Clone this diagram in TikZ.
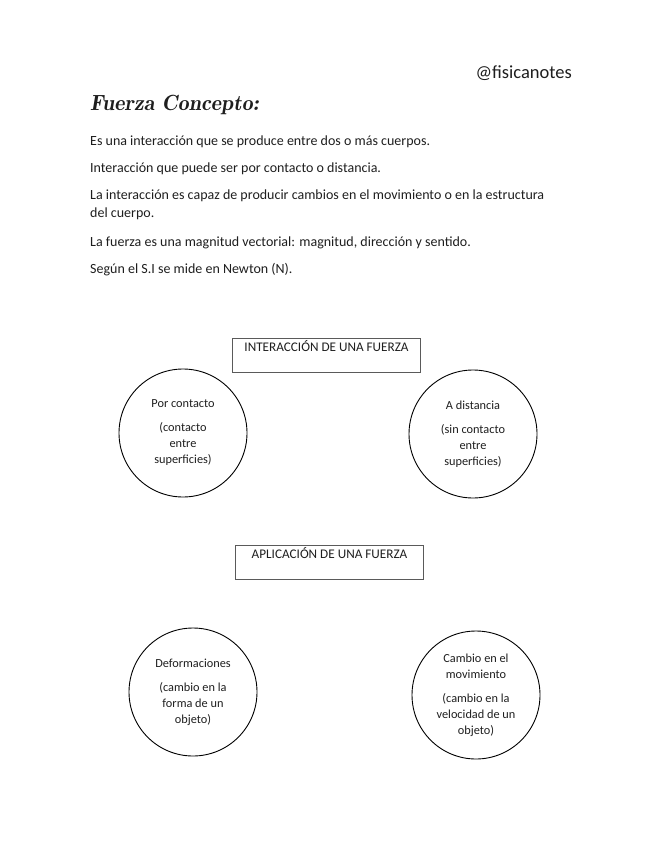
\documentclass[tikz,border=0pt]{standalone}
\usepackage{fontspec}
\setmainfont{Carlito}
\usetikzlibrary{positioning}
\definecolor{ink}{HTML}{1E1E1E}
\definecolor{frame}{HTML}{5A5A5A}

\begin{document}
\begin{tikzpicture}[x=1pt, y=1pt, text=ink,
  line/.style={font=\fontsize{14}{18}\selectfont, anchor=base west, align=left, inner sep=0pt},
  hdr/.style={draw=frame, line width=1pt, anchor=north west, minimum width=188, inner xsep=0pt, inner ysep=4pt, text height=9pt, text depth=17pt, font=\fontsize{13.2}{14}\selectfont},
  ball/.style={draw=black, circle, line width=0.9pt, minimum size=128, inner sep=0pt, align=center, font=\fontsize{12.3}{16}\selectfont}]
\useasboundingbox (0,0) rectangle (655,-848);
% cabecera
\node[anchor=base east, inner sep=0pt, font=\fontsize{18.5}{18}\selectfont] (handle) at (572,-79) {@fisicanotes};
\node[anchor=base west, inner sep=0pt, font=\fontfamily{lmr}\fontsize{22}{22}\selectfont\bfseries\itshape] (title) at (90,-111) {Fuerza Concepto:};
% definiciones (el nodo de dos lineas va por la base de su ultima linea)
\node[line] (def1) at (90,-145) {Es una interacción que se produce entre dos o más cuerpos.};
\node[line] (def2) at (90,-172) {Interacción que puede ser por contacto o distancia.};
\node[line] (def3) at (90,-217) {La interacción es capaz de producir cambios en el movimiento o en la estructura\\del cuerpo.};
\node[line] (def4) at (90,-246) {La fuerza es una magnitud vectorial: magnitud, dirección y sentido.};
\node[line] (def5) at (90,-273) {Según el S.I se mide en Newton (N).};
% interaccion
\node[hdr] (interbox) at (232,-338) {INTERACCIÓN DE UNA FUERZA};
\node[ball] (contacto) at (183,-433) {Por contacto\\[8pt](contacto\\entre\\superficies)};
\node[ball] (distancia) at (473,-434) {A distancia\\[8pt](sin contacto\\entre\\superficies)};
% aplicacion
\node[hdr] (aplbox) at (235,-545) {APLICACIÓN DE UNA FUERZA};
\node[ball] (deform) at (193,-692) {Deformaciones\\[8pt](cambio en la\\forma de un\\objeto)};
\node[ball] (movim) at (476,-695) {Cambio en el\\movimiento\\[8pt](cambio en la\\velocidad de un\\objeto)};
\end{tikzpicture}
\end{document}
